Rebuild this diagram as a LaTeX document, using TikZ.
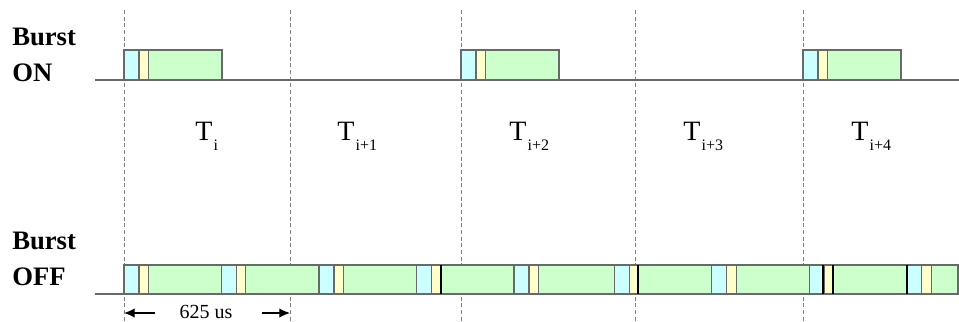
\documentclass[tikz,border=0pt]{standalone}
\usepackage{fontspec}
\setmainfont{Liberation Serif}
\usetikzlibrary{arrows.meta,positioning}
\definecolor{slotcyan}{RGB}{204,255,255}
\definecolor{slotyellow}{RGB}{255,255,204}
\definecolor{slotgreen}{RGB}{204,255,204}
\definecolor{edgegray}{RGB}{105,105,105}
\newcommand{\slotname}[1]{T\kern1pt\raisebox{-7.5pt}{\fontsize{12}{12}\selectfont #1}}

\begin{document}
\begin{tikzpicture}[x=0.75pt,y=-0.75pt,
  arrow/.style={-{Latex[length=8pt,width=7pt]}, line width=0.9pt},
  grid/.style={densely dashed, gray, line width=0.6pt},
  axis/.style={edgegray, line width=1.2pt},
  cell/.style={draw=edgegray, line width=0.8pt, fill=#1},
  title/.style={font=\fontsize{20}{27}\selectfont\bfseries, align=left, inner sep=0pt, anchor=base west},
  slot/.style={font=\fontsize{21}{21}\selectfont, inner sep=0pt, anchor=base west},
]
  \useasboundingbox (0,0) rectangle (959,321);

  % ---- Slot borders ----
  \foreach \x [count=\k] in {124,290,461,635,803} {
    \coordinate (g\k) at (\x,10);
    \draw[grid] (g\k) -- ++(0,311);
  }

  % ---- Burst ON ----
  \node[title] (on) at (12,81) {Burst\\ON};
  \draw[axis] (95,80) -- (959,80);
  \foreach \x in {124,461,803} {
    \draw[cell=slotgreen]  (\x,50) rectangle ++(98,30);
    \draw[cell=slotcyan]   (\x,50) rectangle ++(15,30);
    \draw[cell=slotyellow] (\x+15,50) rectangle ++(9.5,30);
  }

  % ---- Slot labels ----
  \node[slot] (t0) at (195,140) {\slotname{i}};
  \node[slot] (t1) at (337,140) {\slotname{i+1}};
  \node[slot] (t2) at (509,140) {\slotname{i+2}};
  \node[slot] (t3) at (683,140) {\slotname{i+3}};
  \node[slot] (t4) at (851,140) {\slotname{i+4}};

  % ---- Burst OFF ----
  \node[title] (off) at (12,285) {Burst\\OFF};
  \draw[axis] (95,294) -- (959,294);
  \draw[cell=slotgreen] (124,265) rectangle (958,294);
  \foreach \x in {124,221.3,319,416.7,514,614.3,711.7,809.3,906.7} {
    \draw[cell=slotcyan]   (\x,265) rectangle ++(15,29);
    \draw[cell=slotyellow] (\x+15,265) rectangle ++(9.5,29);
  }
  \foreach \x in {441.3,638,823.3,833.3,906.7}
    \draw[line width=1.3pt] (\x,265) -- (\x,294);

  % ---- Slot length ----
  \node[font=\fontsize{15}{15}\selectfont, inner sep=0pt] (len) at (206,312) {625 us};
  \coordinate (la) at (155,313);
  \coordinate (lb) at (262,313);
  \draw[arrow] (la) -- (g1 |- la);
  \draw[arrow] (lb) -- (g2 |- lb);
\end{tikzpicture}
\end{document}
